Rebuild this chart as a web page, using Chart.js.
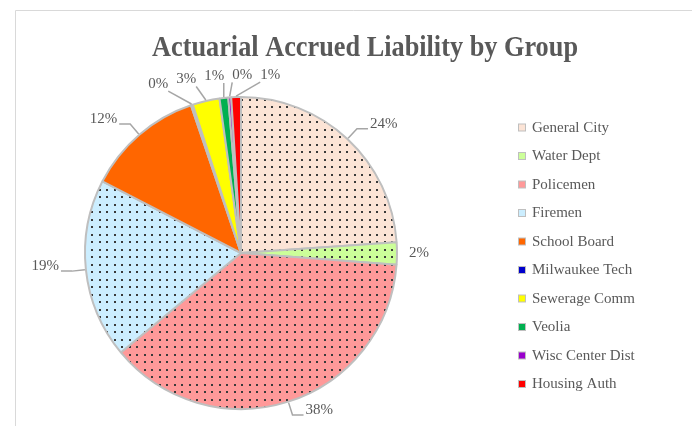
<!DOCTYPE html>
<html>
<head>
<meta charset="utf-8">
<script src="https://cdn.jsdelivr.net/npm/chart.js@4.4.1/dist/chart.umd.min.js"></script>
<style>
  html, body { margin: 0; padding: 0; background: #fff; }
  canvas { display: block; }
</style>
</head>
<body>
<canvas id="chartAAL" width="692" height="426"></canvas>
<script>
// datos del grafico
const titulo = "Actuarial Accrued Liability by Group";
const grupos = ["General City", "Water Dept", "Policemen", "Firemen", "School Board",
    "Milwaukee Tech", "Sewerage Comm", "Veolia", "Wisc Center Dist", "Housing Auth"];
const porcentajes = [23.9, 2.3, 37.8, 18.6, 12.2, 0.2, 2.8, 0.9, 0.3, 1.0];

// estilos
const colores = ["#fce4d6", "#ccff99", "#ff9999", "#cceeff", "#ff6600",
    "#0000cc", "#ffff00", "#00b050", "#9900cc", "#ff0000"];
const conPuntos = [true, true, true, true, false, false, false, false, false, false];
const gris = "#595959";

// trama de puntos como en Excel
function trama(color) {
    const c = document.createElement("canvas");
    c.width = 15; c.height = 15;
    const g = c.getContext("2d");
    g.fillStyle = color;
    g.fillRect(0, 0, 15, 15);
    g.fillStyle = "#3a3a3a";
    [1, 9].forEach(x => [1, 9].forEach(y => g.fillRect(x, y, 2, 2)));
    return g.createPattern(c, "repeat");
}

const fondos = colores.map((c, i) => conPuntos[i] ? trama(c) : c);

// marco, titulo y leyenda
const decoracion = {
    id: "decoracion",
    beforeDraw(chart) {
        const ctx = chart.ctx;
        ctx.save();
        ctx.strokeStyle = "#d9d9d9";
        ctx.lineWidth = 1;
        ctx.beginPath();
        ctx.moveTo(15.5, 426);
        ctx.lineTo(15.5, 10.5);
        ctx.lineTo(692, 10.5);
        ctx.stroke();
        ctx.restore();
    },
    afterDraw(chart) {
        const ctx = chart.ctx;
        ctx.save();
        ctx.fillStyle = gris;
        ctx.font = 'bold 29px "Liberation Serif"';
        const w = ctx.measureText(titulo).width;
        ctx.translate(365, 56);
        ctx.scale(426 / w, 1);
        ctx.textAlign = "center";
        ctx.textBaseline = "alphabetic";
        ctx.fillText(titulo, 0, 0);
        ctx.restore();

        ctx.save();
        ctx.font = '15px "Liberation Serif"';
        ctx.textBaseline = "middle";
        grupos.forEach((g, i) => {
            const y = 128 + i * 28.5;
            ctx.fillStyle = colores[i];
            ctx.fillRect(518.5, y - 4, 7, 7);
            ctx.strokeStyle = "#bfbfbf";
            ctx.lineWidth = 1;
            ctx.strokeRect(518.5, y - 4, 7, 7);
            ctx.fillStyle = gris;
            ctx.fillText(g, 532, y);
        });
        ctx.restore();
    }
};

// etiquetas de porcentaje con lineas guia
const etiquetas = {
    id: "etiquetas",
    afterDatasetsDraw(chart) {
        const ctx = chart.ctx;
        const arcs = chart.getDatasetMeta(0).data;
        const total = porcentajes.reduce((a, b) => a + b, 0);
        ctx.save();
        ctx.font = '15px "Liberation Serif"';
        ctx.fillStyle = gris;
        ctx.strokeStyle = "#a6a6a6";
        ctx.lineWidth = 1.5;

        const chicas = [];
        arcs.forEach((arc, i) => {
            const p = arc.getProps(["x", "y", "startAngle", "endAngle", "outerRadius"], true);
            const mid = (p.startAngle + p.endAngle) / 2;
            const cx = Math.cos(mid), cy = Math.sin(mid);
            const r = p.outerRadius;
            const txt = Math.round(porcentajes[i] / total * 100) + "%";
            const borde = { x: p.x + cx * (r + 1), y: p.y + cy * (r + 1) };
            if (porcentajes[i] / total >= 0.05) {
                const codo = { x: p.x + cx * (r + 14), y: p.y + cy * (r + 14) };
                const lado = cx >= 0 ? 1 : -1;
                const fin = codo.x + lado * 11;
                ctx.beginPath();
                ctx.moveTo(borde.x, borde.y);
                ctx.lineTo(codo.x, codo.y);
                ctx.lineTo(fin, codo.y);
                ctx.stroke();
                ctx.textAlign = lado > 0 ? "left" : "right";
                ctx.textBaseline = "middle";
                ctx.fillText(txt, fin + lado * 2, codo.y - 5);
            } else {
                const nx = p.x + cx * (r + 22), ny = p.y + cy * (r + 22);
                chicas.push({ txt, borde, nx, ny, x: nx, y: ny, w: ctx.measureText(txt).width + 8, h: 14 });
            }
        });

        // separar etiquetas que se pisan, manteniendo el orden horizontal
        chicas.sort((a, b) => a.nx - b.nx);
        for (let it = 0; it < 300; it++) {
            for (let a = 0; a < chicas.length - 1; a++) {
                const A = chicas[a], B = chicas[a + 1];
                if (Math.abs(A.y - B.y) >= (A.h + B.h) / 2) continue;
                const over = (A.w + B.w) / 2 - (B.x - A.x);
                if (over > 0) {
                    A.x -= over / 2;
                    B.x += over / 2;
                }
            }
        }

        ctx.textAlign = "center";
        ctx.textBaseline = "middle";
        chicas.forEach(e => {
            if (Math.hypot(e.x - e.nx, e.y - e.ny) > 3) {
                const tx = Math.max(e.x - e.w / 2 + 4, Math.min(e.borde.x, e.x + e.w / 2 - 4));
                const ty = e.y + 7;
                ctx.beginPath();
                ctx.moveTo(e.borde.x, e.borde.y);
                ctx.lineTo(tx, ty);
                ctx.stroke();
            }
            ctx.fillText(e.txt, e.x, e.y);
        });
        ctx.restore();
    }
};

new Chart(document.getElementById("chartAAL"), {
    type: "pie",
    data: {
        labels: grupos,
        datasets: [{
            data: porcentajes,
            backgroundColor: fondos,
            borderColor: "#bfbfbf",
            borderWidth: 2,
            hoverOffset: 0
        }]
    },
    options: {
        responsive: false,
        animation: false,
        layout: { padding: { left: 84, right: 294, top: 96, bottom: 16 } },
        plugins: {
            legend: { display: false },
            tooltip: { enabled: false },
            title: { display: false }
        }
    },
    plugins: [decoracion, etiquetas]
});
</script>
</body>
</html>
